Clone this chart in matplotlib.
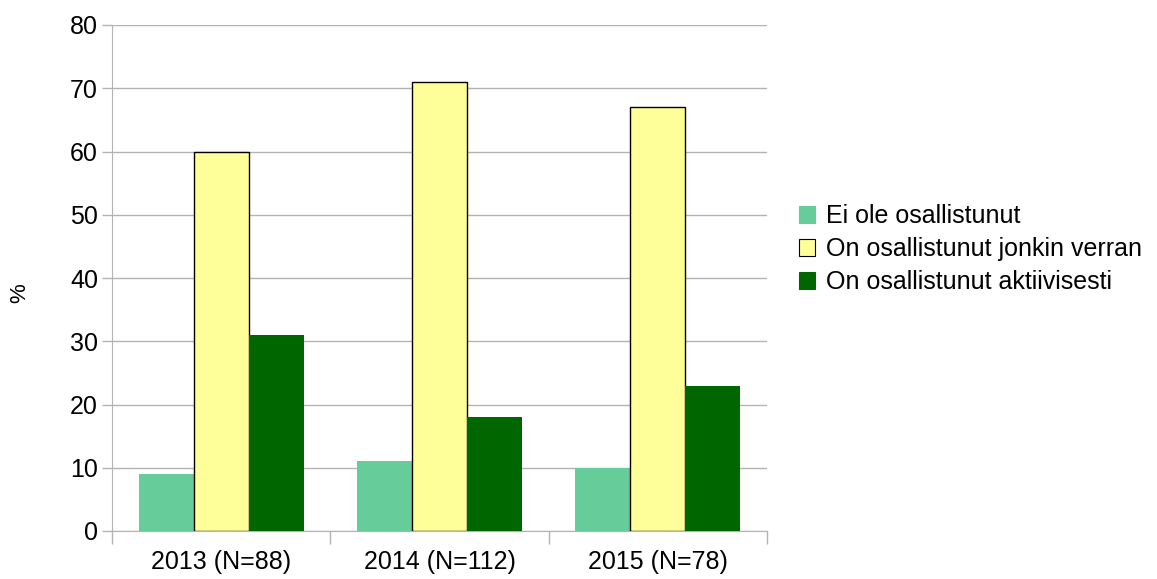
import numpy as np
import matplotlib
matplotlib.use('Agg')
import matplotlib.pyplot as plt
from matplotlib.patches import Patch

plt.rcParams['font.family'] = ['Liberation Sans', 'DejaVu Sans']

groups = ["2013 (N=88)", "2014 (N=112)", "2015 (N=78)"]
series = ["Ei ole osallistunut", "On osallistunut jonkin verran", "On osallistunut aktiivisesti"]
ei_ole = [9, 11, 10]
jonkin = [60, 71, 67]
aktiivisesti = [31, 18, 23]

colors = ["#66cc99", "#ffff99", "#006600"]
edges = ["none", "black", "none"]

fig = plt.figure(figsize=(11.57, 5.79), dpi=100)
ax = fig.add_axes([112 / 1157, 48 / 579, 655 / 1157, 506 / 579])

x = np.arange(len(groups))
w = 0.252
for i, (vals, c, e) in enumerate(zip([ei_ole, jonkin, aktiivisesti], colors, edges)):
    ax.bar(x + (i - 1) * w, vals, w, color=c, edgecolor=e, linewidth=1.0, zorder=3)

ax.set_xlim(-0.5, 2.5)
ax.set_ylim(0, 80)
ax.set_yticks(range(0, 81, 10))
ax.yaxis.grid(True, color="#b3b3b3", linewidth=1, zorder=0)

ax.set_xticks(x)
ax.set_xticklabels(groups, fontsize=18)
ax.tick_params(axis='x', length=0, pad=14)
ax.set_xticks([-0.5, 0.5, 1.5, 2.5], minor=True)
ax.tick_params(axis='x', which='minor', length=9, color="#b3b3b3", width=1)
ax.tick_params(axis='y', length=7, color="#b3b3b3", width=1, labelsize=18, pad=3)

for s in ['top', 'right']:
    ax.spines[s].set_visible(False)
for s in ['left', 'bottom']:
    ax.spines[s].set_color("#b3b3b3")

# y-axis title placed explicitly so it stays inside the figure
fig.text(20 / 1157, 1 - 293 / 579, "%", fontsize=16, rotation=90, ha='center', va='center')

handles = [Patch(facecolor=c, edgecolor=("black" if e == "black" else c), linewidth=0.8) for c, e in zip(colors, edges)]
fig.legend(handles, series, loc='upper left', bbox_to_anchor=(799 / 1157, 1 - 204 / 579),
           frameon=False, fontsize=18, handlelength=0.65, handleheight=0.65,
           handletextpad=0.42, labelspacing=0.36, borderpad=0, borderaxespad=0)

fig.savefig("out.png", dpi=100)
